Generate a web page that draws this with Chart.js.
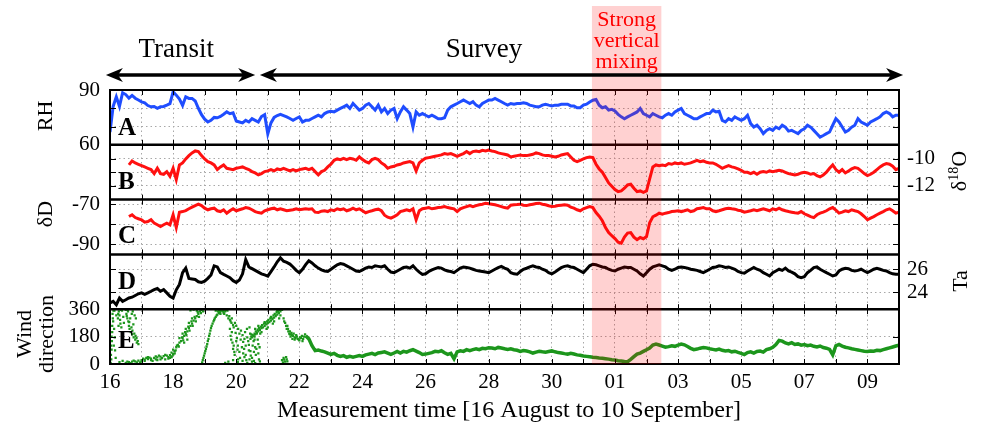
<!DOCTYPE html>
<html>
<head>
<meta charset="utf-8">
<script src="https://cdn.jsdelivr.net/npm/chart.js@4/dist/chart.umd.min.js"></script>
<style>
  html, body { margin: 0; padding: 0; background: #fff; }
</style>
</head>
<body>
<canvas id="grafico" width="982" height="427"></canvas>
<script>
// Séries amostradas a cada 0,1 dia (dia 0 = 16 de agosto, 00h)
const PASSO = 0.1;

const umidade = [
  67, 81, 86.3, 81, 88.5, 87.5, 85.5, 87, 85.5, 84.5,
  83.5, 83, 81.5, 80.8, 81, 80, 80.8, 81, 81.7, 82.5,
  89, 87.2, 85, 81.5, 86.3, 85.4, 85.4, 84, 80, 76.5,
  74, 72.5, 73.4, 75, 74.8, 75.5, 76.7, 78, 77, 77.5,
  73, 72.5, 72, 73.4, 72.5, 74.3, 73.4, 72.5, 75.5, 76.5,
  66, 72, 75, 76, 76.7, 76, 75.3, 74.4, 73.4, 74.4,
  75.3, 72.5, 73.4, 73.4, 74.4, 75.3, 76.2, 75.3, 77.1, 78,
  78.4, 78, 79, 79.9, 80.8, 81.7, 79.9, 82.6, 80.8, 79,
  79.9, 81.7, 82.6, 80.8, 79, 81.7, 78, 79.9, 77.1, 79,
  79.9, 74.3, 78, 80.8, 79, 77.1, 69.7, 78, 76.2, 77.1,
  76.2, 75.3, 76.2, 75.3, 74.3, 74.3, 74.8, 79, 80.8, 81.7,
  82.6, 83.6, 84.5, 83.6, 82.6, 83.6, 81.7, 80.8, 82.6, 83.6,
  84.5, 84.5, 85.4, 84.5, 83.6, 82.6, 81.7, 82.6, 82.2, 82.6,
  82.6, 83, 82.6, 81.7, 81.3, 80.8, 80.8, 81.7, 82.2, 81.7,
  81.3, 81.7, 81.7, 82.2, 82.2, 82.2, 81.3, 81.3, 80.3, 80.3,
  81.7, 82.2, 83.4, 84.4, 84.8, 81.7, 80.3, 80.8, 79, 79.4,
  78.5, 76.7, 75.3, 74.3, 75.3, 76.2, 77.1, 78, 79.9, 77.1,
  76.2, 75.3, 77.1, 76.2, 75.3, 74.8, 76.2, 77.1, 76.2, 78,
  79, 79.9, 77.1, 76.2, 75.3, 74.3, 74.3, 75.3, 76.2, 77.1,
  77.1, 79, 78, 78.4, 73.4, 72.5, 74.3, 73.4, 75.3, 74.3,
  73.4, 74.3, 76.2, 71.6, 69.7, 70.7, 68.8, 66.1, 67.9, 68.8,
  67.9, 69.7, 68.8, 70.7, 69.7, 67.5, 67.9, 67, 66.1, 67.9,
  68.8, 70.7, 69.7, 67.9, 66.1, 64.2, 65.1, 66.1, 67, 70.7,
  74.3, 72.5, 69.7, 67, 67.9, 69.7, 70.7, 74.3, 72.5, 71.6,
  70.7, 72.5, 73.4, 74.3, 75.3, 77.1, 78, 77.1, 75.3, 76.2, 76.2
];

// isótopos começam em 0,6 dia
const inicioIsotopos = 0.6;
const d18O = [
  -10.45, -10.15, -10.3, -10.4,
  -10.5, -10.6, -10.7, -10.8, -11.1, -10.7, -11.1, -11.15, -10.95, -11.3,
  -10.7, -11.55, -10.45, -10.3, -10.0, -9.75, -9.55, -9.4, -9.45, -9.75,
  -10.0, -10.2, -10.3, -10.45, -10.8, -10.6, -10.45, -10.7, -10.75, -10.8,
  -10.7, -10.65, -10.6, -10.7, -10.8, -10.95, -11.05, -11.2, -11.1, -10.95,
  -10.9, -10.8, -10.9, -10.75, -10.8, -10.7, -10.8, -10.9, -10.8, -10.9,
  -10.8, -10.75, -10.7, -10.8, -10.7, -10.95, -11.2, -10.95, -10.85, -10.6,
  -10.4, -10.1, -10.0, -10.05, -9.95, -10.05, -9.95, -10.0, -10.1, -9.85,
  -10.05, -10.2, -10.3, -10.05, -9.95, -10.05, -10.3, -10.45, -10.7, -10.6,
  -10.55, -10.45, -10.4, -10.3, -10.25, -10.2, -10.3, -10.9, -10.3, -10.1,
  -9.95, -9.9, -9.85, -9.8, -9.75, -9.7, -9.6, -9.65, -9.6, -9.7,
  -9.8, -9.7, -9.6, -9.45, -9.6, -9.45, -9.4, -9.45, -9.35, -9.4,
  -9.33, -9.4, -9.45, -9.55, -9.6, -9.65, -9.7, -9.85, -9.8, -9.75,
  -9.7, -9.75, -9.75, -9.7, -9.65, -9.55, -9.6, -9.7, -9.75, -9.75,
  -9.8, -9.85, -9.8, -9.7, -9.65, -9.6, -9.85, -10.1, -10.2, -10.1,
  -10.0, -9.9, -9.85, -9.9, -10.4, -10.75, -11.0, -11.4, -11.8, -12.05,
  -12.3, -12.45, -12.4, -12.2, -11.95, -11.9, -12.2, -12.45, -12.4, -12.5,
  -12.4, -11.5, -10.6, -10.45, -10.5, -10.45, -10.5, -10.35, -10.4, -10.3,
  -10.35, -10.3, -10.4, -10.35, -10.3, -10.2, -10.1, -10.2, -10.15, -10.25,
  -10.3, -10.3, -10.4, -10.55, -10.7, -10.6, -10.5, -10.6, -10.65, -10.75,
  -10.85, -11.0, -11.0, -11.1, -11.0, -11.15, -11.0, -10.95, -11.0, -10.9,
  -10.95, -10.9, -10.85, -10.9, -11.0, -11.1, -11.15, -11.2, -11.15, -11.05,
  -11.0, -11.05, -11.15, -11.1, -11.25, -11.35, -11.2, -11.0, -10.7, -10.45,
  -10.8, -11.0, -10.8, -11.05, -10.9, -10.75, -10.65, -10.7, -10.9, -11.1,
  -11.25, -11.15, -11.0, -10.8, -10.6, -10.45, -10.35, -10.4, -10.55, -10.8, -10.7
];

const dD = [
  -76.2, -75.3, -76.7, -77.3,
  -77.8, -79, -78.7, -77.8, -79.5, -80.3, -81.2, -80.3, -79.5, -80.3,
  -75.3, -81.7, -74, -73.7, -73.2, -72.3, -71.5, -70.7, -70, -70.7,
  -72, -72.8, -72.3, -72, -73.3, -73.7, -72.8, -74.5, -73.3, -72.3,
  -73.3, -72.8, -72.3, -71.7, -72, -72.8, -73.7, -74.2, -74.5, -73.3,
  -72.8, -72.3, -72, -72.8, -72.3, -72.8, -73.3, -73, -72.8, -72.3,
  -72.8, -72.5, -72.3, -72.5, -72.3, -74, -74.2, -73.5, -73.3, -73.7,
  -72.8, -73.2, -72.3, -72.8, -72.3, -73.3, -72.8, -72, -72.8, -72.3,
  -73.3, -74.3, -73.7, -73.3, -72.8, -72.5, -73.3, -75.5, -76.5, -77,
  -76.2, -75.3, -73.7, -73.3, -72.8, -73.3, -72.3, -77.8, -73.3, -72.3,
  -72, -71.7, -72.3, -72, -71.7, -71.5, -71.2, -71.7, -72, -72.3,
  -73.7, -72.3, -71.7, -71.2, -70.7, -71.2, -70.7, -70.3, -70, -69.5,
  -69.8, -70, -70.3, -70.7, -71.2, -71.7, -72, -70.5, -70.3, -70.2,
  -70, -70.5, -70.7, -70.3, -70, -69.7, -69.5, -70, -70.3, -70.8,
  -71.2, -71, -70.7, -70.5, -70.3, -70.5, -71.5, -72, -72.8, -73.3,
  -72.3, -71.7, -71.2, -71.7, -74.2, -76, -78.3, -81.7, -84.2, -85.8,
  -87.2, -89, -89.5, -86.5, -84.5, -84.2, -86.5, -87.8, -86.7, -87.3,
  -86.2, -79.3, -76.3, -75.5, -74.5, -75, -74.5, -74.2, -73.7, -73.5,
  -73.3, -73.7, -73.3, -72.8, -73.7, -73.3, -72.3, -72, -71.7, -72.3,
  -72.3, -73.3, -73.7, -73.3, -72.8, -72.3, -72, -72.3, -72.5, -73,
  -73.3, -74, -73.7, -73.3, -72.8, -73.3, -72.8, -72.3, -72.8, -73.3,
  -72.3, -72.8, -72, -72.8, -73.3, -73.7, -74, -74.3, -74.5, -73.7,
  -74.8, -75.5, -76.2, -76.7, -75.3, -74.5, -74, -73.3, -72.3, -71.7,
  -73, -74.5, -74, -73.3, -73.7, -72.8, -73.3, -73.7, -74.8, -76.2,
  -77.8, -77, -76.2, -75.3, -74.5, -73.7, -72.8, -72.3, -73.3, -74.5, -74
];

const temperatura = [
  23.04, 23.19, 22.89, 23.48, 23.19, 23.33, 23.48, 23.55, 23.7, 23.85,
  23.93, 23.8, 23.93, 24.07, 24.22, 24.31, 24.07, 24.22, 23.93, 23.63,
  23.48, 24.2, 24.67, 25.7, 26.1, 25.2, 25.15, 25.1, 24.9, 24.85,
  24.96, 25.2, 25.5, 26.3, 26.2, 25.7, 25.55, 25.41, 25.26, 25.0,
  24.85, 25.05, 25.6, 26.85, 26.2, 26.05, 25.9, 25.75, 25.6, 25.5,
  25.4, 25.8, 26.2, 26.65, 27.0, 26.7, 26.6, 26.45, 26.2, 25.9,
  25.7, 26.0, 26.4, 26.74, 26.55, 26.3, 26.1, 25.95, 25.85, 25.8,
  26.0, 26.2, 26.39, 26.5, 26.44, 26.3, 26.15, 26.0, 25.85, 25.8,
  25.95, 26.1, 26.2, 26.15, 26.3, 26.25, 26.2, 26.3, 26.0, 25.75,
  25.7, 25.85, 26.0, 26.15, 26.2, 26.1, 26.3, 26.0, 25.75, 25.55,
  25.6, 25.8, 25.95, 26.05, 26.15, 26.1, 25.95, 25.85, 25.8, 25.7,
  25.9, 26.1, 26.2, 26.15, 26.1, 26.0, 25.9, 25.85, 25.8, 25.75,
  25.7, 25.85, 26.0, 26.15, 26.25, 26.1, 26.0, 25.7, 25.6, 25.56,
  25.8, 26.0, 26.09, 26.2, 26.3, 26.2, 26.15, 26.0, 25.9, 25.7,
  25.6, 25.75, 25.95, 26.15, 26.25, 26.3, 26.2, 26.15, 26.0, 25.85,
  25.7, 26.0, 26.3, 26.44, 26.39, 26.3, 26.2, 26.15, 26.0, 25.9,
  25.85, 26.0, 26.1, 26.2, 26.15, 26.15, 26.0, 25.85, 25.6, 25.41,
  25.7, 26.0, 26.2, 26.3, 26.39, 26.3, 26.2, 26.0, 25.9, 26.0,
  26.15, 26.2, 26.15, 26.1, 26.0, 25.95, 25.9, 25.8, 25.7, 25.85,
  26.0, 26.15, 26.2, 26.3, 26.25, 26.15, 26.2, 26.1, 26.0, 25.8,
  25.7, 25.65, 25.85, 26.0, 26.15, 26.0, 25.9, 25.7, 25.56, 25.41,
  25.7, 25.85, 26.0, 25.9, 26.1, 25.85, 25.75, 25.6, 25.35, 25.26,
  25.35, 25.7, 25.9, 26.15, 26.2, 26.0, 25.85, 25.7, 25.56, 25.41,
  25.5, 25.85, 26.0, 26.09, 26.05, 25.9, 25.85, 25.9, 26.0, 25.85,
  25.7, 25.85, 26.0, 26.09, 26.0, 25.9, 25.85, 25.7, 25.6, 25.56, 25.56
];

// direção do vento na fase de levantamento, a partir de 6,2 dias
const inicioVento = 6.2;
const ventoDir = [
  185, 165, 120, 88, 92, 85, 80, 72,
  63, 70, 57, 50, 55, 44, 50, 45, 50, 55,
  50, 60, 65, 70, 62, 72, 76, 80, 72, 63,
  72, 83, 72, 83, 78, 87, 94, 85, 75, 63,
  65, 70, 75, 83, 80, 87, 74, 63, 70, 35,
  80, 87, 83, 94, 88, 94, 100, 94, 103, 100,
  107, 105, 100, 109, 105, 100, 96, 100, 94, 90,
  83, 88, 85, 80, 72, 78, 83, 80, 78, 82,
  86, 80, 75, 72, 68, 65, 70, 66, 60, 57,
  53, 50, 47, 44, 42, 39, 38, 35, 32, 28,
  26, 22, 20, 17, 15, 30, 48, 65, 72, 83,
  94, 105, 125, 131, 125, 118, 110, 114, 120, 116,
  124, 131, 126, 115, 103, 94, 98, 104, 108, 106,
  100, 96, 92, 98, 90, 86, 88, 80, 84, 76,
  70, 62, 75, 80, 72, 82, 85, 78, 94, 100,
  110, 128, 155, 150, 138, 132, 140, 128, 132, 124,
  128, 120, 124, 116, 112, 118, 108, 104, 96, 60,
  120, 128, 118, 110, 106, 100, 96, 92, 88, 84,
  82, 86, 84, 90, 88, 94, 100, 106, 112, 118, 124
];

// pontos dispersos da direção do vento no trânsito (dia, graus)
const transitoDia = [
  0.02, 0.04, 0.05, 0.06, 0.07, 0.08, 0.1, 0.12, 0.14, 0.15,
  0.03, 0.05, 0.07, 0.09, 0.11, 0.13, 0.16, 0.18, 0.2, 0.04,
  0.25, 0.28, 0.3, 0.33, 0.36, 0.38, 0.3, 0.4, 0.26, 0.32, 0.35, 0.42, 0.44, 0.27,
  0.5, 0.52, 0.55, 0.58, 0.6, 0.62, 0.66, 0.7, 0.72, 0.75, 0.78, 0.8, 0.82, 0.85,
  0.53, 0.57, 0.61, 0.64, 0.68, 0.71, 0.74, 0.77, 0.81, 0.84, 0.88, 0.9, 0.56, 0.69,
  0.5, 0.6, 0.7, 0.8, 0.9, 1.0, 1.05, 1.1, 1.2, 1.25, 1.3, 1.4, 1.45, 1.5, 1.6, 1.65, 1.7, 1.8, 1.85, 1.9, 1.95, 2.0,
  0.95, 1.35, 1.75,
  0.55, 0.65, 0.75, 0.85, 1.0, 1.15, 1.3, 1.45, 1.55, 1.6, 1.75, 1.85, 1.95, 2.05, 1.1, 1.5, 1.2, 1.9,
  1.95, 2.0, 2.05, 2.1, 2.15, 2.2, 2.25, 2.3, 2.35, 2.4, 2.45, 2.5, 2.55, 2.6, 2.65, 2.7, 2.75, 2.8, 2.85, 2.9,
  2.2, 2.3, 2.4, 2.5, 2.6, 2.35, 2.45,
  2.0, 2.08, 2.12, 2.18, 2.28, 2.32, 2.38, 2.42, 2.48, 2.52, 2.58, 2.62, 2.68, 2.72, 2.78, 2.82, 2.88,
  2.55, 2.65, 2.75, 2.95,
  2.92, 2.96, 3.0, 3.04, 3.08, 3.12, 3.16, 3.2, 3.25, 3.3, 3.35, 3.4, 3.45, 3.5, 3.55, 3.6,
  2.94, 2.98, 3.02, 3.06, 3.1, 3.14, 3.18, 3.22, 3.28, 3.32, 3.38, 3.42, 3.48, 3.52, 3.58,
  3.35, 3.45, 3.5, 3.6, 3.65, 3.7, 3.75, 3.8, 3.85, 3.9, 3.68,
  3.62, 3.72, 3.78, 3.82, 3.86, 3.92, 3.96,
  3.8, 3.82, 3.88, 3.9, 3.95, 3.98, 4.02, 4.05, 4.1, 4.12, 4.15, 4.2, 4.22, 4.25, 4.3,
  4.32, 4.35, 4.4, 4.42, 4.45, 4.5, 4.55, 4.6, 4.62, 4.65, 4.7, 4.72, 4.0, 4.28, 4.48,
  3.84, 3.86, 3.92, 3.94, 4.0, 4.04, 4.06, 4.1, 4.14, 4.18, 4.22, 4.26, 4.3, 4.34, 4.38,
  4.4, 4.44, 4.46, 4.52, 4.56, 4.58, 4.64, 4.68, 4.7, 4.74, 4.06, 4.26, 4.42, 4.56,
  3.65, 3.75, 3.9, 4.05, 4.2, 4.35, 4.5, 4.6, 4.75,
  4.45, 4.5, 4.55, 4.6, 4.65, 4.7, 4.75, 4.8, 4.85, 4.9, 4.95, 5.0, 5.05, 5.1, 5.15,
  5.2, 5.25, 5.3, 5.35, 5.4, 5.45,
  4.48, 4.52, 4.58, 4.62, 4.68, 4.72, 4.78, 4.82, 4.88, 4.92, 4.98, 5.02, 5.08, 5.12,
  5.18, 5.22, 5.28, 5.32, 5.38, 4.58, 4.76, 4.96, 5.16, 5.36,
  4.6, 4.7, 4.8, 4.9, 5.0, 5.1, 5.2, 5.3, 5.4,
  5.5, 5.55, 5.6, 5.65, 5.7, 5.75, 5.8, 5.85, 5.9, 5.95, 6.0, 6.05, 6.1, 6.15, 5.62, 5.78,
  5.52, 5.58, 5.64, 5.68, 5.72, 5.76, 5.82, 5.88, 5.92, 5.98, 6.02, 6.08, 6.12, 6.18, 5.7, 5.85,
  5.45, 5.5, 5.55, 5.6, 5.48, 5.52, 5.58, 5.62
];
const transitoGraus = [
  8, 30, 95, 150, 210, 330, 280, 120, 350, 175,
  60, 180, 250, 300, 350, 230, 90, 40, 320, 120,
  300, 345, 320, 265, 240, 350, 12, 20, 330, 290, 355, 310, 270, 250,
  355, 330, 300, 280, 250, 230, 210, 195, 345, 175, 320, 160, 300, 140,
  315, 345, 275, 300, 240, 220, 260, 200, 185, 170, 150, 130, 355, 330,
  8, 12, 15, 18, 22, 25, 35, 28, 32, 42, 36, 40, 50, 44, 48, 38, 52, 55, 45, 58, 50, 62,
  10, 20, 30,
  15, 5, 22, 10, 15, 40, 25, 30, 55, 30, 60, 35, 45, 70, 20, 25, 45, 40,
  75, 95, 85, 110, 125, 140, 150, 170, 185, 200, 215, 235, 250, 265, 285, 300, 315, 330, 345, 355,
  170, 200, 230, 270, 300, 140, 160,
  65, 90, 120, 115, 175, 155, 210, 190, 245, 220, 280, 250, 310, 280, 340, 310, 335,
  352, 358, 350, 345,
  10, 40, 70, 100, 130, 165, 200, 235, 265, 290, 310, 325, 335, 345, 350, 355,
  25, 55, 85, 115, 150, 185, 220, 250, 280, 300, 320, 345, 340, 355, 345,
  350, 355, 330, 335, 345, 320, 300, 290, 270, 255, 355,
  330, 350, 315, 280, 300, 240, 270,
  230, 185, 140, 100, 60, 205, 170, 120, 80, 40, 220, 190, 145, 100, 60,
  25, 175, 125, 240, 85, 40, 150, 110, 60, 200, 130, 30, 250, 210, 195,
  160, 210, 120, 80, 150, 95, 230, 200, 160, 110, 70, 165, 120, 230, 150,
  90, 200, 55, 120, 80, 180, 100, 160, 70, 110, 30, 45, 30, 20,
  8, 15, 25, 12, 20, 8, 15, 5, 18,
  165, 175, 185, 195, 205, 215, 225, 235, 240, 250, 260, 268, 275, 285, 295,
  305, 315, 325, 335, 345, 355,
  180, 190, 200, 215, 225, 235, 245, 255, 265, 270, 280, 290, 300, 305,
  320, 330, 340, 345, 355, 160, 200, 230, 265, 300,
  230, 250, 210, 275, 240, 310, 280, 350, 320,
  300, 270, 230, 215, 195, 205, 185, 175, 190, 165, 155, 170, 150, 180, 250, 165,
  280, 250, 230, 200, 180, 190, 200, 170, 180, 160, 175, 185, 165, 195, 215, 160,
  25, 40, 15, 30, 10, 28, 45, 18
];

const rotulosDias = ['16', '18', '20', '22', '24', '26', '28', '30', '01', '03', '05', '07', '09'];
const marcasRH = [60, 70, 80, 90];
const marcasD18O = [-12, -11, -10];
const marcasDD = [-90, -80, -70];
const marcasTa = [24, 26];
const marcasVento = [0, 180, 360];

// trechos anotados (em dias desde 16/08)
const fimTransito = 4.6;
const inicioLevantamento = 4.75;
const inicioMistura = 15.27;
const fimMistura = 17.47;

const fonte = '"Liberation Serif", "Times New Roman", serif';

function serie(valores, inicio) {
  return valores.map((v, i) => ({ x: +(inicio + i * PASSO).toFixed(2), y: v }));
}

function eixo(lado, peso, min, max, marcas, rotulos) {
  return {
    type: 'linear',
    position: lado,
    stack: lado,
    stackWeight: 1,
    weight: peso,
    min: min,
    max: max,
    afterBuildTicks: s => { s.ticks = marcas.map(v => ({ value: v })); },
    afterFit: s => { s.width = lado === 'left' ? 110 : 83; },
    grid: { display: lado === 'left', color: '#a8a8a8', lineWidth: 1, drawTicks: false },
    border: { display: false, dash: [1.5, 3] },
    ticks: {
      display: rotulos.length > 0,
      autoSkip: false,
      color: '#000',
      font: { family: fonte, size: 21 },
      padding: lado === 'left' ? 10 : 8,
      callback: v => rotulos.includes(v) ? String(v) : ''
    }
  };
}

function ponta(ctx, x, y, dir) {
  ctx.beginPath();
  ctx.moveTo(x, y);
  ctx.lineTo(x + dir * 17, y - 7);
  ctx.lineTo(x + dir * 12, y);
  ctx.lineTo(x + dir * 17, y + 7);
  ctx.closePath();
  ctx.fill();
}

function seta(ctx, x0, x1, y) {
  ctx.lineWidth = 3.5;
  ctx.beginPath();
  ctx.moveTo(x0 + 10, y);
  ctx.lineTo(x1 - 10, y);
  ctx.stroke();
  ponta(ctx, x0, y, 1);
  ponta(ctx, x1, y, -1);
}

// texto girado lendo de baixo para cima; partes = [texto, tamanho, deslocamento]
function textoVertical(ctx, partes, cx, cy) {
  ctx.save();
  ctx.translate(cx, cy);
  ctx.rotate(-Math.PI / 2);
  ctx.textAlign = 'left';
  ctx.textBaseline = 'alphabetic';
  let total = 0;
  partes.forEach(([t, tam]) => { ctx.font = tam + 'px ' + fonte; total += ctx.measureText(t).width; });
  let x = -total / 2;
  partes.forEach(([t, tam, dy]) => {
    ctx.font = tam + 'px ' + fonte;
    ctx.fillText(t, x, 7 + dy);
    x += ctx.measureText(t).width;
  });
  ctx.restore();
}

const moldura = {
  id: 'moldura',
  afterDatasetsDraw(chart) {
    const { ctx, chartArea: a, scales } = chart;
    const paineis = ['yA', 'yB', 'yC', 'yD', 'yE'].map(id => scales[id]);
    ctx.save();
    ctx.strokeStyle = '#000';
    ctx.lineWidth = 1;
    // marcas internas do eixo de tempo em cada painel
    scales.x.ticks.forEach(t => {
      const px = Math.round(scales.x.getPixelForValue(t.value)) + 0.5;
      paineis.forEach(p => {
        ctx.beginPath();
        ctx.moveTo(px, p.top);
        ctx.lineTo(px, p.top + 5);
        ctx.moveTo(px, p.bottom);
        ctx.lineTo(px, p.bottom - 5);
        ctx.stroke();
      });
    });
    // marcas internas dos eixos verticais
    paineis.forEach(p => p.ticks.forEach(t => {
      const py = Math.round(p.getPixelForValue(t.value)) + 0.5;
      ctx.beginPath();
      ctx.moveTo(a.left, py);
      ctx.lineTo(a.left + 6, py);
      ctx.moveTo(a.right, py);
      ctx.lineTo(a.right - 6, py);
      ctx.stroke();
    }));
    // separação entre painéis e moldura
    ctx.lineWidth = 2.5;
    paineis.slice(0, 4).forEach(p => {
      ctx.beginPath();
      ctx.moveTo(a.left, p.bottom);
      ctx.lineTo(a.right, p.bottom);
      ctx.stroke();
    });
    ctx.lineWidth = 2;
    ctx.strokeRect(a.left, a.top, a.right - a.left, a.bottom - a.top);
    // faixa de mistura vertical forte
    const x0 = scales.x.getPixelForValue(inicioMistura);
    const x1 = scales.x.getPixelForValue(fimMistura);
    ctx.fillStyle = 'rgba(255, 0, 0, 0.18)';
    ctx.fillRect(x0, 6, x1 - x0, a.bottom - 6);
    // letras dos painéis
    ctx.fillStyle = '#000';
    ctx.font = 'bold 25px ' + fonte;
    ctx.textAlign = 'left';
    ctx.textBaseline = 'alphabetic';
    const subida = [10, 11, 11, 20, 16];
    ['A', 'B', 'C', 'D', 'E'].forEach((l, i) => ctx.fillText(l, a.left + 8, paineis[i].bottom - subida[i]));
    ctx.restore();
  },
  afterDraw(chart) {
    const { ctx, scales: { x } } = chart;
    ctx.save();
    ctx.fillStyle = '#000';
    ctx.strokeStyle = '#000';
    ctx.textAlign = 'center';
    ctx.textBaseline = 'middle';

    ctx.font = '24px ' + fonte;
    ctx.fillText('Measurement time [16 August to 10 September]', 509, 411);

    textoVertical(ctx, [['RH', 22, 0]], 45, 116);
    textoVertical(ctx, [['δD', 22, 0]], 45, 214);
    textoVertical(ctx, [['Wind', 22, 0]], 24, 334);
    textoVertical(ctx, [['direction', 22, 0]], 46, 334);
    textoVertical(ctx, [['δ', 22, 0], ['18', 14, -8], ['O', 22, 0]], 959, 171);
    textoVertical(ctx, [['Ta', 22, 0]], 960, 281);

    // períodos de trânsito e de levantamento
    const yS = 75;
    seta(ctx, x.getPixelForValue(-0.13), x.getPixelForValue(fimTransito), yS);
    seta(ctx, x.getPixelForValue(inicioLevantamento), x.getPixelForValue(25.13), yS);
    ctx.font = '27px ' + fonte;
    ctx.fillText('Transit', x.getPixelForValue(2.1), 50);
    ctx.fillText('Survey', x.getPixelForValue(11.85), 50);

    ctx.fillStyle = '#ff0000';
    ctx.font = '22px ' + fonte;
    const cx = (x.getPixelForValue(inicioMistura) + x.getPixelForValue(fimMistura)) / 2;
    ctx.fillText('Strong', cx, 20);
    ctx.fillText('vertical', cx, 41);
    ctx.fillText('mixing', cx, 62);
    ctx.restore();
  }
};

const linha = (dados, cor, eixoY, largura) => ({
  data: dados,
  yAxisID: eixoY,
  borderColor: cor,
  backgroundColor: cor,
  borderWidth: largura,
  pointRadius: 0,
  tension: 0,
  fill: false
});

new Chart(document.getElementById('grafico'), {
  type: 'line',
  data: {
    datasets: [
      linha(serie(umidade, 0), '#1f4dff', 'yA', 3),
      linha(serie(d18O, inicioIsotopos), '#ff1010', 'yB', 3),
      linha(serie(dD, inicioIsotopos), '#ff1010', 'yC', 3),
      linha(serie(temperatura, 0), '#000000', 'yD', 3),
      linha(serie(ventoDir, inicioVento), '#1c961c', 'yE', 3.5),
      {
        data: transitoDia.map((d, i) => ({ x: d, y: transitoGraus[i] })),
        yAxisID: 'yE',
        showLine: false,
        pointStyle: 'rect',
        pointRadius: 1.6,
        pointBorderWidth: 0,
        backgroundColor: '#1c961c',
        borderColor: '#1c961c'
      }
    ]
  },
  options: {
    responsive: false,
    animation: false,
    devicePixelRatio: 1,
    events: [],
    layout: { padding: { top: 90, left: 0, right: 0, bottom: 0 } },
    plugins: { legend: { display: false }, tooltip: { enabled: false } },
    scales: {
      x: {
        type: 'linear',
        min: 0,
        max: 25,
        afterFit: s => { s.height = 63; },
        grid: { color: '#a8a8a8', lineWidth: 1, drawTicks: false },
        border: { display: false, dash: [1.5, 3] },
        ticks: {
          stepSize: 1,
          autoSkip: false,
          maxRotation: 0,
          padding: 6,
          color: '#000',
          font: { family: fonte, size: 21 },
          callback: v => (v % 2 === 0 && v / 2 < rotulosDias.length) ? rotulosDias[v / 2] : ''
        }
      },
      yA: eixo('left', 5, 60, 90, marcasRH, [60, 90]),
      yB: eixo('left', 4, -13.05, -8.94, marcasD18O, []),
      yC: eixo('left', 3, -95.15, -67.7, marcasDD, [-70, -90]),
      yD: eixo('left', 2, 22.5, 27.3, marcasTa, []),
      yE: eixo('left', 1, 0, 360, marcasVento, [0, 180, 360]),
      dA: eixo('right', 1, 60, 90, marcasRH, []),
      dB: eixo('right', 2, -13.05, -8.94, marcasD18O, [-10, -12]),
      dC: eixo('right', 3, -95.15, -67.7, marcasDD, []),
      dD: eixo('right', 4, 22.5, 27.3, marcasTa, [24, 26]),
      dE: eixo('right', 5, 0, 360, marcasVento, [])
    }
  },
  plugins: [moldura]
});
</script>
</body>
</html>
